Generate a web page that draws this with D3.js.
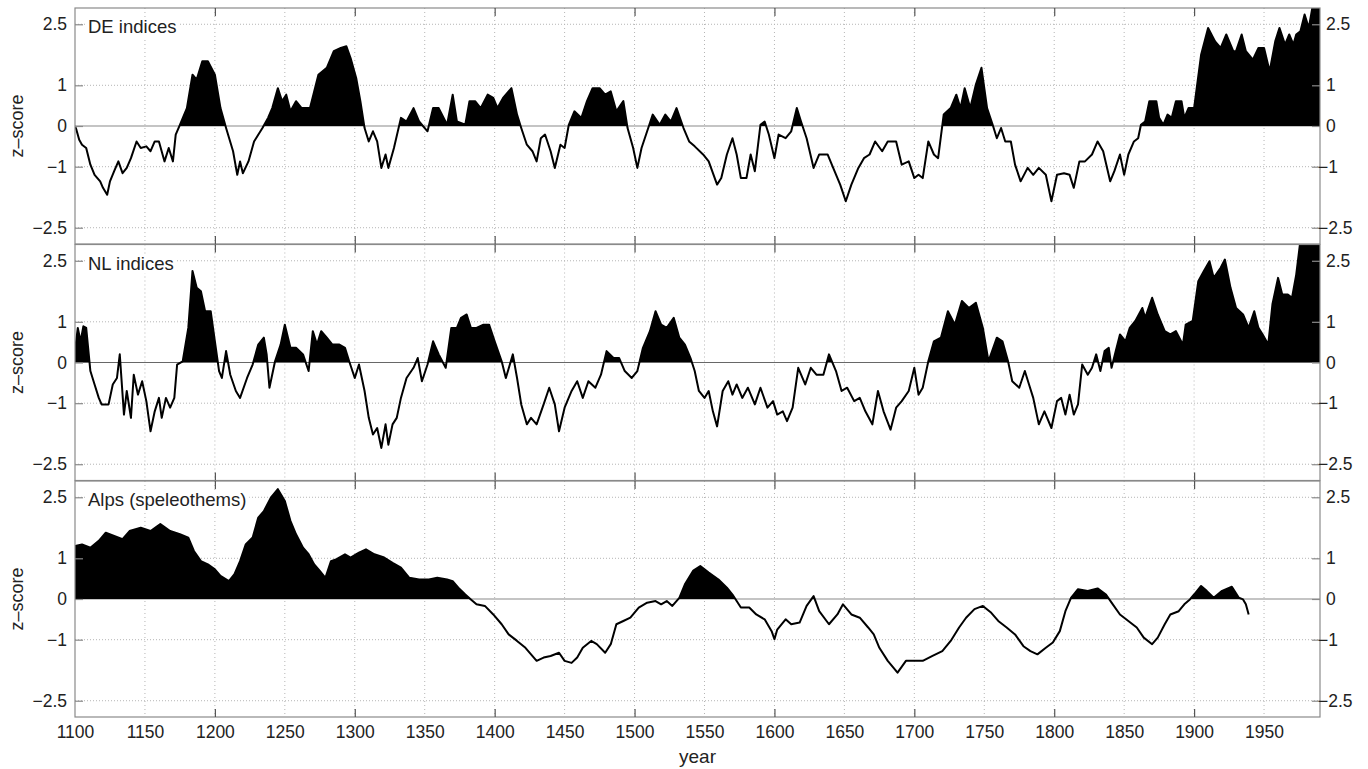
<!DOCTYPE html>
<html>
<head>
<meta charset="utf-8">
<script src="https://cdn.jsdelivr.net/npm/d3@7"></script>
<style>
  body { margin: 0; background: #fff; }
  svg { display: block; font-family: "Liberation Sans", Arial, sans-serif; }
</style>
</head>
<body>
<div id="chart"></div>
<script>
// Data
const deSeries = [
  [1100,0.0],[1101,-0.09],[1103,-0.34],[1105,-0.46],[1108,-0.54],[1111,-0.95],[1114,-1.2],[1118,-1.36],[1120,-1.52],
  [1123,-1.69],[1125,-1.36],[1128,-1.11],[1131,-0.87],[1134,-1.16],[1137,-1.03],[1140,-0.79],[1144,-0.38],[1147,-0.54],
  [1151,-0.5],[1154,-0.62],[1157,-0.38],[1160,-0.38],[1164,-0.87],[1167,-0.54],[1170,-0.87],[1172,-0.21],[1175,0.03],
  [1180,0.44],[1184,1.26],[1187,1.14],[1191,1.59],[1195,1.59],[1200,1.26],[1204,0.44],[1208,-0.05],[1213,-0.62],
  [1216,-1.2],[1218,-0.87],[1220,-1.16],[1224,-0.87],[1228,-0.38],[1234,-0.05],[1238,0.2],[1241,0.44],[1245,0.93],
  [1248,0.61],[1251,0.77],[1254,0.36],[1258,0.61],[1262,0.44],[1268,0.44],[1274,1.26],[1280,1.43],[1285,1.84],
  [1290,1.92],[1294,1.96],[1297,1.67],[1301,1.18],[1304,0.61],[1307,-0.05],[1310,-0.38],[1313,-0.13],[1316,-0.38],
  [1319,-1.03],[1322,-0.7],[1324,-1.03],[1328,-0.54],[1333,0.2],[1337,0.11],[1342,0.44],[1346,0.11],[1352,-0.13],
  [1356,0.44],[1360,0.44],[1366,0.03],[1370,0.77],[1373,0.11],[1379,0.03],[1382,0.61],[1386,0.61],[1390,0.44],
  [1395,0.77],[1399,0.69],[1402,0.44],[1406,0.69],[1412,0.93],[1416,0.28],[1419,-0.05],[1423,-0.46],[1427,-0.62],
  [1430,-0.87],[1433,-0.3],[1436,-0.21],[1440,-0.62],[1443,-1.03],[1447,-0.46],[1450,-0.54],[1453,0.03],[1457,0.36],
  [1462,0.2],[1466,0.61],[1470,0.93],[1475,0.93],[1479,0.77],[1483,0.85],[1487,0.36],[1492,0.61],[1495,-0.05],
  [1499,-0.54],[1502,-1.03],[1505,-0.54],[1509,-0.13],[1513,0.28],[1518,0.03],[1522,0.28],[1526,0.11],[1530,0.44],
  [1535,-0.05],[1539,-0.38],[1543,-0.5],[1549,-0.7],[1553,-0.87],[1559,-1.44],[1562,-1.28],[1566,-0.7],[1570,-0.3],
  [1573,-0.7],[1576,-1.28],[1580,-1.28],[1583,-0.7],[1586,-1.11],[1590,0.03],[1593,0.11],[1596,-0.21],[1600,-0.79],
  [1603,-0.21],[1608,-0.3],[1612,-0.13],[1616,0.44],[1619,0.11],[1623,-0.3],[1628,-1.03],[1632,-0.7],[1638,-0.7],
  [1642,-1.03],[1647,-1.44],[1651,-1.85],[1655,-1.44],[1660,-1.03],[1664,-0.79],[1668,-0.7],[1672,-0.38],[1677,-0.62],
  [1681,-0.38],[1687,-0.38],[1691,-0.95],[1696,-0.87],[1700,-1.28],[1703,-1.2],[1706,-1.28],[1710,-0.38],[1714,-0.7],
  [1717,-0.79],[1721,0.28],[1726,0.44],[1730,0.77],[1733,0.44],[1736,0.93],[1740,0.44],[1744,1.02],[1748,1.43],
  [1752,0.44],[1756,0.03],[1759,-0.3],[1762,-0.05],[1765,-0.38],[1769,-0.38],[1772,-0.95],[1776,-1.36],[1781,-1.03],
  [1785,-1.2],[1789,-1.03],[1794,-1.2],[1798,-1.85],[1802,-1.2],[1807,-1.16],[1811,-1.2],[1814,-1.52],[1818,-0.87],
  [1822,-0.87],[1827,-0.7],[1831,-0.38],[1835,-0.62],[1840,-1.36],[1843,-1.11],[1847,-0.7],[1850,-1.2],[1853,-0.7],
  [1857,-0.38],[1860,-0.3],[1862,0.03],[1865,0.11],[1868,0.61],[1873,0.61],[1875,0.2],[1878,0.03],[1881,0.28],
  [1884,0.2],[1887,0.61],[1891,0.61],[1893,0.2],[1896,0.44],[1900,0.44],[1905,1.75],[1910,2.41],[1915,2.08],
  [1919,1.92],[1923,2.25],[1928,1.84],[1930,1.84],[1934,2.25],[1937,1.84],[1942,1.63],[1946,1.92],[1950,1.92],
  [1954,1.34],[1958,2.08],[1961,2.41],[1965,2.0],[1968,2.25],[1971,2.0],[1973,2.25],[1976,2.33],[1979,2.74],
  [1982,2.41],[1985,3.0],[1990,3.1]
];

const nlSeries = [
  [1100,0.3],[1102,0.85],[1104,0.52],[1106,0.89],[1108,0.85],[1111,-0.21],[1114,-0.54],[1117,-0.87],[1119,-1.03],
  [1124,-1.03],[1127,-0.54],[1130,-0.38],[1132,0.2],[1135,-1.28],[1137,-0.7],[1140,-1.36],[1142,-0.3],[1145,-0.79],
  [1148,-0.46],[1151,-0.95],[1154,-1.69],[1157,-1.2],[1160,-0.87],[1162,-1.36],[1165,-0.87],[1168,-1.11],[1171,-0.87],
  [1173,-0.05],[1177,0.03],[1181,0.85],[1184,2.25],[1187,1.84],[1190,1.75],[1193,1.26],[1197,1.26],[1200,0.52],
  [1203,-0.21],[1205,-0.38],[1208,0.28],[1211,-0.3],[1215,-0.7],[1218,-0.87],[1223,-0.38],[1227,-0.05],[1231,0.44],
  [1235,0.61],[1237,0.2],[1239,-0.62],[1243,0.03],[1247,0.44],[1250,0.93],[1254,0.36],[1258,0.36],[1263,0.2],
  [1267,-0.21],[1270,0.77],[1273,0.44],[1276,0.77],[1280,0.61],[1284,0.44],[1289,0.44],[1293,0.36],[1296,0.03],
  [1300,-0.38],[1303,-0.05],[1307,-0.7],[1310,-1.36],[1313,-1.77],[1316,-1.61],[1319,-2.1],[1322,-1.52],[1324,-2.02],
  [1327,-1.52],[1330,-1.36],[1333,-0.87],[1337,-0.38],[1342,-0.13],[1345,0.11],[1348,-0.46],[1352,-0.05],[1356,0.52],
  [1360,0.2],[1365,-0.13],[1369,0.85],[1373,0.85],[1376,1.1],[1380,1.18],[1383,0.85],[1387,0.85],[1392,0.93],
  [1396,0.93],[1400,0.52],[1405,0.03],[1408,-0.38],[1413,0.2],[1416,-0.38],[1419,-1.03],[1423,-1.52],[1426,-1.36],
  [1430,-1.52],[1435,-1.03],[1439,-0.62],[1443,-1.03],[1446,-1.69],[1450,-1.11],[1455,-0.7],[1459,-0.46],[1463,-0.87],
  [1467,-0.46],[1472,-0.62],[1476,-0.3],[1480,0.28],[1485,0.11],[1489,0.11],[1493,-0.21],[1498,-0.38],[1502,-0.21],
  [1506,0.36],[1511,0.77],[1515,1.26],[1519,0.93],[1523,0.85],[1528,1.1],[1532,0.61],[1536,0.44],[1540,0.11],
  [1543,-0.21],[1546,-0.7],[1550,-0.87],[1553,-0.7],[1556,-1.2],[1559,-1.57],[1563,-0.7],[1567,-0.46],[1570,-0.79],
  [1573,-0.54],[1577,-0.87],[1581,-0.62],[1586,-1.03],[1590,-0.62],[1595,-1.11],[1599,-0.95],[1602,-1.28],[1606,-1.2],
  [1609,-1.44],[1613,-1.11],[1617,-0.13],[1622,-0.54],[1626,-0.13],[1630,-0.3],[1635,-0.3],[1639,0.2],[1644,-0.21],
  [1648,-0.7],[1652,-0.62],[1657,-0.95],[1661,-0.87],[1665,-1.2],[1670,-1.52],[1674,-0.7],[1678,-1.2],[1683,-1.65],
  [1687,-1.11],[1691,-0.95],[1696,-0.7],[1700,-0.13],[1703,-0.79],[1706,-0.62],[1710,0.03],[1714,0.52],[1719,0.61],
  [1724,1.26],[1729,0.93],[1734,1.51],[1739,1.34],[1744,1.47],[1749,0.85],[1753,0.03],[1759,0.61],[1763,0.52],
  [1767,0.03],[1770,-0.46],[1775,-0.62],[1779,-0.21],[1782,-0.54],[1785,-0.87],[1789,-1.52],[1793,-1.2],[1798,-1.61],
  [1802,-0.95],[1805,-0.87],[1808,-1.28],[1811,-0.79],[1814,-1.28],[1817,-1.03],[1820,-0.05],[1824,-0.3],[1827,-0.13],
  [1830,0.2],[1833,-0.21],[1836,0.28],[1839,0.36],[1841,-0.13],[1844,0.28],[1847,0.69],[1851,0.52],[1854,0.85],
  [1858,1.02],[1863,1.34],[1865,1.1],[1870,1.59],[1874,1.18],[1879,0.77],[1883,0.69],[1887,0.77],[1892,0.44],
  [1894,0.93],[1899,1.02],[1903,2.0],[1907,2.25],[1911,2.49],[1914,2.08],[1919,2.33],[1922,2.53],[1926,1.84],
  [1930,1.34],[1935,1.18],[1939,0.85],[1943,1.26],[1946,0.85],[1949,0.69],[1953,0.44],[1956,1.43],[1960,2.08],
  [1963,1.67],[1967,1.67],[1970,1.59],[1973,2.16],[1976,3.0],[1990,3.2]
];

const alpsSeries = [
  [1100,1.3],[1105,1.34],[1111,1.26],[1117,1.43],[1122,1.63],[1128,1.55],[1134,1.47],[1139,1.67],[1147,1.75],
  [1154,1.67],[1161,1.84],[1168,1.67],[1175,1.59],[1181,1.51],[1185,1.18],[1190,0.93],[1195,0.85],[1200,0.73],
  [1204,0.57],[1210,0.44],[1214,0.61],[1218,0.93],[1222,1.34],[1227,1.51],[1231,2.0],[1235,2.16],[1240,2.49],
  [1245,2.7],[1250,2.41],[1254,1.92],[1258,1.59],[1263,1.26],[1267,1.1],[1271,0.85],[1275,0.69],[1279,0.52],
  [1283,0.93],[1287,0.98],[1293,1.1],[1297,1.02],[1303,1.14],[1308,1.22],[1314,1.1],[1321,1.02],[1327,0.89],
  [1333,0.77],[1339,0.52],[1346,0.48],[1353,0.48],[1359,0.52],[1366,0.48],[1370,0.44],[1374,0.28],[1379,0.11],
  [1383,-0.01],[1387,-0.13],[1393,-0.17],[1399,-0.38],[1405,-0.62],[1410,-0.87],[1416,-1.03],[1422,-1.2],[1426,-1.36],
  [1430,-1.52],[1435,-1.44],[1440,-1.4],[1446,-1.32],[1450,-1.52],[1455,-1.57],[1459,-1.44],[1463,-1.2],[1469,-1.03],
  [1473,-1.11],[1479,-1.32],[1483,-1.11],[1487,-0.62],[1492,-0.54],[1497,-0.46],[1503,-0.21],[1509,-0.09],[1515,-0.05],
  [1519,-0.13],[1523,-0.05],[1527,-0.17],[1532,0.03],[1536,0.36],[1542,0.7],[1547,0.81],[1553,0.65],[1560,0.48],
  [1566,0.28],[1570,0.11],[1576,-0.21],[1582,-0.21],[1587,-0.38],[1593,-0.5],[1598,-0.79],[1600,-0.99],[1602,-0.75],
  [1608,-0.5],[1612,-0.62],[1618,-0.58],[1623,-0.17],[1628,0.07],[1632,-0.3],[1639,-0.62],[1645,-0.38],[1649,-0.13],
  [1655,-0.38],[1661,-0.46],[1667,-0.7],[1671,-0.87],[1675,-1.2],[1681,-1.52],[1688,-1.81],[1694,-1.52],[1700,-1.52],
  [1706,-1.52],[1713,-1.4],[1720,-1.28],[1726,-1.03],[1732,-0.7],[1737,-0.46],[1743,-0.25],[1749,-0.17],[1755,-0.34],
  [1760,-0.54],[1766,-0.7],[1772,-0.87],[1778,-1.16],[1783,-1.28],[1788,-1.36],[1794,-1.2],[1799,-1.07],[1804,-0.79],
  [1808,-0.3],[1812,0.03],[1817,0.24],[1824,0.2],[1831,0.26],[1837,0.11],[1841,-0.09],[1847,-0.38],[1853,-0.54],
  [1859,-0.7],[1864,-0.95],[1870,-1.11],[1874,-0.95],[1879,-0.62],[1883,-0.38],[1889,-0.3],[1893,-0.13],[1897,-0.01],
  [1900,0.11],[1905,0.32],[1909,0.2],[1914,0.03],[1920,0.2],[1927,0.3],[1932,0.03],[1935,-0.01],[1937,-0.13],[1939,-0.38]
];

const panelLabels = ["DE indices", "NL indices", "Alps (speleothems)"];
const yTickValues = [-2.5, -1, 0, 1, 2.5];
const yGridValues = [-2.5, -1, 1, 2.5];
const xLabelYears = d3.range(1100, 1951, 50);
const xTickYears = d3.range(1200, 1901, 100);

// Layout
const width = 1368, height = 769;
const left = 75, right = 1320;
const panelTops = [8, 244.5, 481];
const panelH = 236;
const gray = "#8a8a8a";
const textColor = "#222";

const svg = d3.select("#chart").append("svg")
  .attr("width", width)
  .attr("height", height);

const x = d3.scaleLinear().domain([1100, 1990]).range([left, right]);

const seriesList = [deSeries, nlSeries, alpsSeries];

seriesList.forEach((data, i) => {
  const top = panelTops[i];
  const y = d3.scaleLinear().domain([-2.9, 2.9]).range([top + panelH, top]);
  const g = svg.append("g").attr("class", "panel");

  // clip paths
  const clipId = "clip" + i, posId = "pos" + i;
  const defs = svg.append("defs");
  defs.append("clipPath").attr("id", clipId).append("rect")
    .attr("x", left).attr("y", top).attr("width", right - left).attr("height", panelH);
  defs.append("clipPath").attr("id", posId).append("rect")
    .attr("x", left).attr("y", top).attr("width", right - left).attr("height", y(0) - top);

  // grid
  g.selectAll(".vgrid").data(xLabelYears.filter(d => d > 1100))
    .enter().append("line")
    .attr("x1", d => x(d)).attr("x2", d => x(d))
    .attr("y1", top).attr("y2", top + panelH)
    .attr("stroke", "#b5b5b5").attr("stroke-width", 1)
    .attr("stroke-dasharray", "1,3");
  g.selectAll(".hgrid").data(yGridValues)
    .enter().append("line")
    .attr("x1", left).attr("x2", right)
    .attr("y1", d => y(d)).attr("y2", d => y(d))
    .attr("stroke", "#b5b5b5").attr("stroke-width", 1)
    .attr("stroke-dasharray", "1,2");

  // zero line
  g.append("line")
    .attr("x1", left).attr("x2", right)
    .attr("y1", y(0)).attr("y2", y(0))
    .attr("stroke", gray).attr("stroke-width", 1.2);

  // panel label with white box (drawn before data, like the reference)
  const labG = g.append("g");
  const lab = labG.append("text")
    .attr("x", left + 13).attr("y", top + 25)
    .attr("fill", textColor)
    .style("font-size", "18.5px")
    .text(panelLabels[i]);
  const bb = lab.node().getBBox();
  labG.insert("rect", () => lab.node())
    .attr("x", bb.x - 3).attr("y", bb.y + 2)
    .attr("width", bb.width + 6).attr("height", bb.height - 2)
    .attr("fill", "#fff");

  // positive fill
  const area = d3.area()
    .x(d => x(d[0]))
    .y0(y(0))
    .y1(d => y(d[1]));
  g.append("path")
    .datum(data)
    .attr("d", area)
    .attr("fill", "#000")
    .attr("clip-path", `url(#${posId})`);

  // line
  const line = d3.line().x(d => x(d[0])).y(d => y(d[1]));
  g.append("path")
    .datum(data)
    .attr("d", line)
    .attr("fill", "none")
    .attr("stroke", "#000")
    .attr("stroke-width", 2)
    .attr("stroke-linejoin", "round")
    .attr("clip-path", `url(#${clipId})`);

  // frame
  g.append("rect")
    .attr("x", left).attr("y", top)
    .attr("width", right - left).attr("height", panelH)
    .attr("fill", "none").attr("stroke", gray).attr("stroke-width", 1.2);

  // y axes
  const fmt = d => d3.format("")(d);
  const yl = g.append("g").attr("transform", `translate(${left},0)`)
    .call(d3.axisLeft(y).tickValues(yTickValues).tickSize(-8).tickPadding(8).tickFormat(fmt));
  const yr = g.append("g").attr("transform", `translate(${right},0)`)
    .call(d3.axisRight(y).tickValues(yTickValues).tickSize(-8).tickPadding(6).tickFormat(fmt));
  [yl, yr].forEach(ax => {
    ax.select(".domain").remove();
    ax.selectAll(".tick line").attr("stroke", gray).attr("stroke-width", 1.2);
    ax.selectAll(".tick text").attr("fill", textColor)
      .style("font-size", "17.5px").style("font-family", "'Liberation Sans', Arial, sans-serif");
  });
  yr.selectAll(".tick text").attr("x", d => d < 0 ? -2 : 6);

  // x ticks (inside, top and bottom)
  const xt = g.append("g").attr("transform", `translate(0,${top})`)
    .call(d3.axisBottom(x).tickValues(xTickYears).tickSize(8).tickFormat(""));
  const xb = g.append("g").attr("transform", `translate(0,${top + panelH})`)
    .call(d3.axisTop(x).tickValues(xTickYears).tickSize(8).tickFormat(""));
  [xt, xb].forEach(ax => {
    ax.select(".domain").remove();
    ax.selectAll(".tick line").attr("stroke", "#555").attr("stroke-width", 1.2);
  });

  // z-score label
  svg.append("text")
    .attr("transform", `translate(23,${y(0)}) rotate(-90)`)
    .attr("text-anchor", "middle")
    .attr("fill", textColor)
    .style("font-size", "18px")
    .text("z\u2013score");
});

// bottom x labels
const bottom = panelTops[2] + panelH;
const xl = svg.append("g").attr("transform", `translate(0,${bottom})`)
  .call(d3.axisBottom(x).tickValues(xLabelYears).tickSize(0).tickPadding(9).tickFormat(d3.format("d")));
xl.select(".domain").remove();
xl.selectAll(".tick text").attr("fill", textColor)
  .style("font-size", "17.5px").style("font-family", "'Liberation Sans', Arial, sans-serif");

svg.append("text")
  .attr("x", (left + right) / 2).attr("y", 763)
  .attr("text-anchor", "middle")
  .attr("fill", textColor)
  .style("font-size", "19px")
  .text("year");
</script>
</body>
</html>
